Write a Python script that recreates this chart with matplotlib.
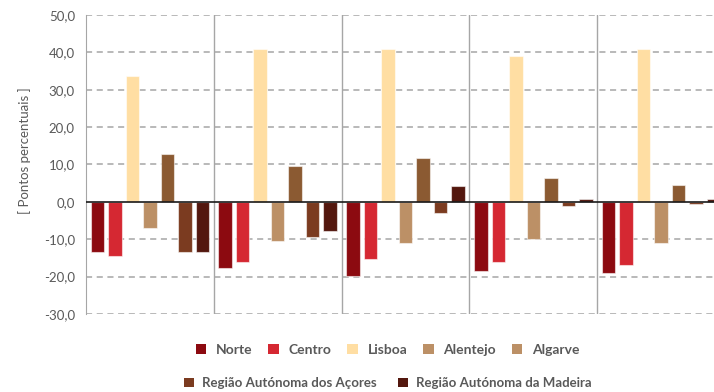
import matplotlib.pyplot as plt
import numpy as np
from matplotlib.patches import Patch

plt.rcParams['font.family'] = ['Lato', 'DejaVu Sans']

# five periods, no labels shown on the x axis
groups = ['1', '2', '3', '4', '5']
regions = ['Norte', 'Centro', 'Lisboa', 'Alentejo', 'Algarve',
           'Região Autónoma dos Açores', 'Região Autónoma da Madeira']

norte = [-13.4, -17.7, -19.7, -18.6, -18.9]
centro = [-14.6, -16.2, -15.4, -16.2, -17.0]
lisboa = [33.6, 41.0, 41.0, 39.0, 41.0]
alentejo = [-7.1, -10.5, -11.1, -9.8, -11.1]
algarve = [12.7, 9.5, 11.8, 6.3, 4.4]
acores = [-13.4, -9.5, -3.0, -1.1, -0.6]
madeira = [-13.4, -7.9, 4.3, 0.8, 0.8]

series = [norte, centro, lisboa, alentejo, algarve, acores, madeira]
colors = ['#8C0A10', '#D52832', '#FFDEA3', '#BC9066', '#8B5A32', '#7B3B20', '#53170E']
# the original legend shows Algarve in the Alentejo tone
legend_colors = ['#8C0A10', '#D52832', '#FFDEA3', '#BC9066', '#BC9066', '#7B3B20', '#53170E']

grey = '#595959'

fig = plt.figure(figsize=(7.14, 3.92), dpi=100)
ax = fig.add_axes([86/714, 1-314/392, 639/714, 299/392])

x = np.arange(len(groups))
pitch = 0.137
width = 0.106
for i, vals in enumerate(series):
    ax.bar(x + (i - 3) * pitch, vals, width, color=colors[i],
           edgecolor=(1, 1, 1, 0.55), linewidth=0.8, zorder=3)

ax.set_ylim(-30, 50)
ax.set_xlim(-0.5, len(groups) - 0.5)
ax.set_yticks(np.arange(-30, 51, 10))
ax.set_yticklabels([f'{v:.1f}'.replace('.', ',') for v in np.arange(-30, 51, 10)],
                   color=grey, fontsize=9.5)
ax.set_xticks([])
ax.tick_params(axis='y', length=0, pad=8)

for y in np.arange(-30, 51, 10):
    if y != 0:
        ax.axhline(y, color='#A6A6A6', lw=1.1, ls=(0, (4, 3)), zorder=1)
ax.axhline(0, color='#1a1a1a', lw=1.2, zorder=4)
for b in np.arange(0.5, len(groups) - 0.5, 1):
    ax.axvline(b, color='#A6A6A6', lw=1, zorder=1)

for s in ['top', 'right', 'bottom']:
    ax.spines[s].set_visible(False)
ax.spines['left'].set_color('#A6A6A6')

ax.set_ylabel('[ Pontos percentuais ]', color=grey, fontsize=9.5)
ax.yaxis.set_label_coords(-0.086, 0.545)

handles = [Patch(facecolor=c) for c in legend_colors]
leg1 = fig.legend(handles[:5], regions[:5], ncol=5, loc='center',
                  bbox_to_anchor=(0.543, 1 - 350/392), frameon=False,
                  handlelength=0.75, handleheight=0.75, columnspacing=1.15,
                  handletextpad=0.7, prop={'weight': 'bold', 'size': 10})
leg2 = fig.legend(handles[5:], regions[5:], ncol=2, loc='center',
                  bbox_to_anchor=(0.543, 1 - 383/392), frameon=False,
                  handlelength=0.75, handleheight=0.75, columnspacing=1.6,
                  handletextpad=0.6, prop={'weight': 'bold', 'size': 9.5})
for leg in (leg1, leg2):
    for t in leg.get_texts():
        t.set_color(grey)

fig.savefig('out.png', dpi=100)
